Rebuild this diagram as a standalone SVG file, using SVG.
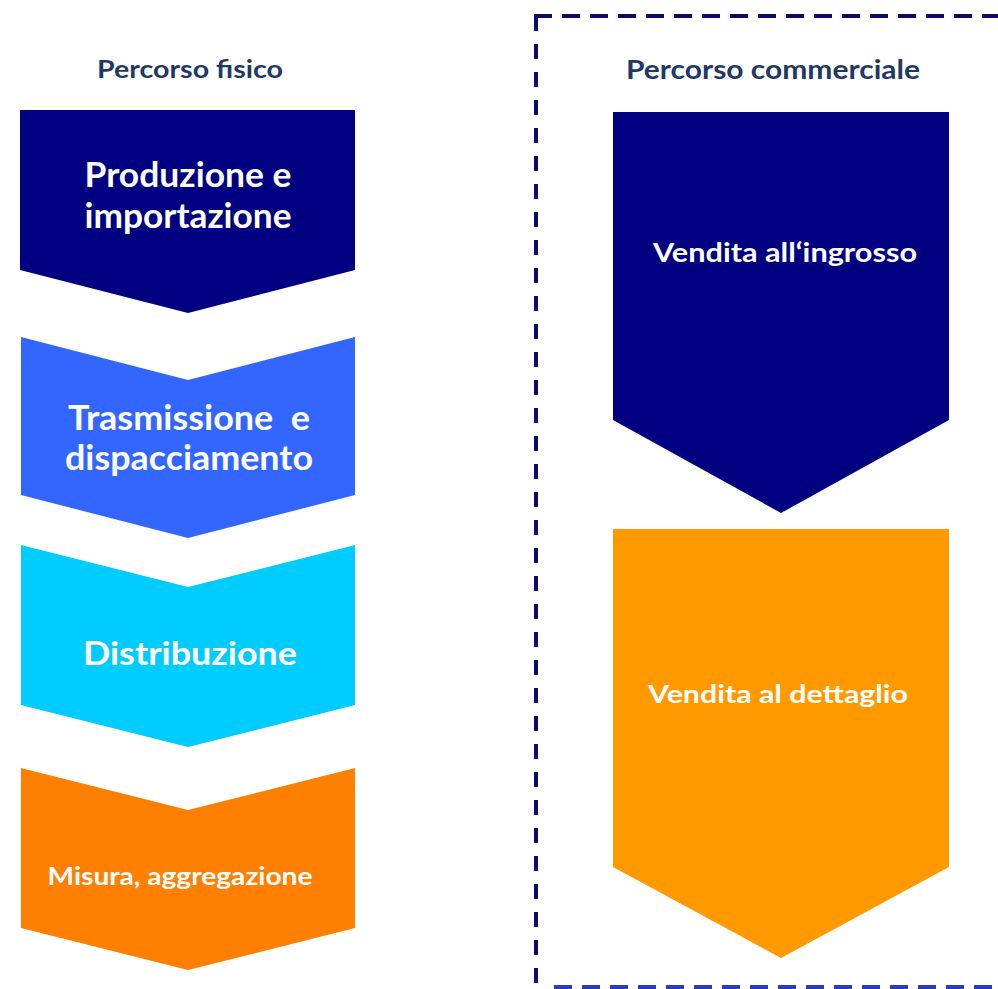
<svg xmlns="http://www.w3.org/2000/svg" width="998" height="989" viewBox="0 0 998 989">
  <style>
    .title { font-family: Lato, "Liberation Sans", sans-serif; font-weight: 700; fill: #1f3864; text-anchor: middle; }
    .lbl { font-family: Lato, "Liberation Sans", sans-serif; font-weight: 700; fill: #ffffff; text-anchor: middle; white-space: pre; }
    .dash-h { fill: none; stroke: #0b0b6e; stroke-width: 4; stroke-dasharray: 18 10; }
    .dash-v { fill: none; stroke: #0b0b6e; stroke-width: 4; stroke-dasharray: 15 13; }
  </style>
  <rect width="998" height="989" fill="#ffffff"/>

  <g id="commercial-frame">
    <line class="dash-h" x1="534" y1="16" x2="1000" y2="16"/>
    <line class="dash-v" x1="536" y1="16" x2="536" y2="989"/>
    <line class="dash-h" x1="554" y1="987" x2="1000" y2="987" style="stroke:#2a3cc0"/>
  </g>

  <g id="title-fisico">
    <text class="title" x="190" y="78" font-size="25" textLength="186" lengthAdjust="spacingAndGlyphs">Percorso fisico</text>
  </g>
  <g id="title-commerciale">
    <text class="title" x="773" y="79" font-size="26" textLength="294" lengthAdjust="spacingAndGlyphs">Percorso commerciale</text>
  </g>

  <g id="produzione">
    <polygon points="20,110 355,110 355,270 188,313 20,270" fill="#000080"/>
    <text class="lbl" x="188" y="187" font-size="35" textLength="207" lengthAdjust="spacingAndGlyphs">Produzione e</text>
    <text class="lbl" x="188" y="228" font-size="35" textLength="207" lengthAdjust="spacingAndGlyphs">importazione</text>
  </g>

  <g id="trasmissione">
    <polygon points="21,337 188,380 355,337 355,495 188,538 21,495" fill="#3366ff"/>
    <text class="lbl" x="189" y="430" font-size="35" textLength="242" lengthAdjust="spacingAndGlyphs">Trasmissione  e</text>
    <text class="lbl" x="189" y="470" font-size="35" textLength="248" lengthAdjust="spacingAndGlyphs">dispacciamento</text>
  </g>

  <g id="distribuzione">
    <polygon points="21,545 188,587 355,545 355,705 188,747 21,705" fill="#00ccff"/>
    <text class="lbl" x="190" y="665" font-size="32" textLength="214" lengthAdjust="spacingAndGlyphs">Distribuzione</text>
  </g>

  <g id="misura">
    <polygon points="21,768 188,810 355,768 355,928 188,970 21,928" fill="#ff8000"/>
    <text class="lbl" x="180" y="885" font-size="24" textLength="265" lengthAdjust="spacingAndGlyphs">Misura, aggregazione</text>
  </g>

  <g id="ingrosso">
    <polygon points="613,112 949,112 949,420 781,513 613,420" fill="#000080"/>
    <text class="lbl" x="785" y="262" font-size="26.5" textLength="264" lengthAdjust="spacingAndGlyphs">Vendita all‘ingrosso</text>
  </g>

  <g id="dettaglio">
    <polygon points="613,529 949,529 949,867 781,958 613,867" fill="#ff9900"/>
    <text class="lbl" x="778" y="703" font-size="25" textLength="260" lengthAdjust="spacingAndGlyphs">Vendita al dettaglio</text>
  </g>

  <g id="connectors"></g>
</svg>
